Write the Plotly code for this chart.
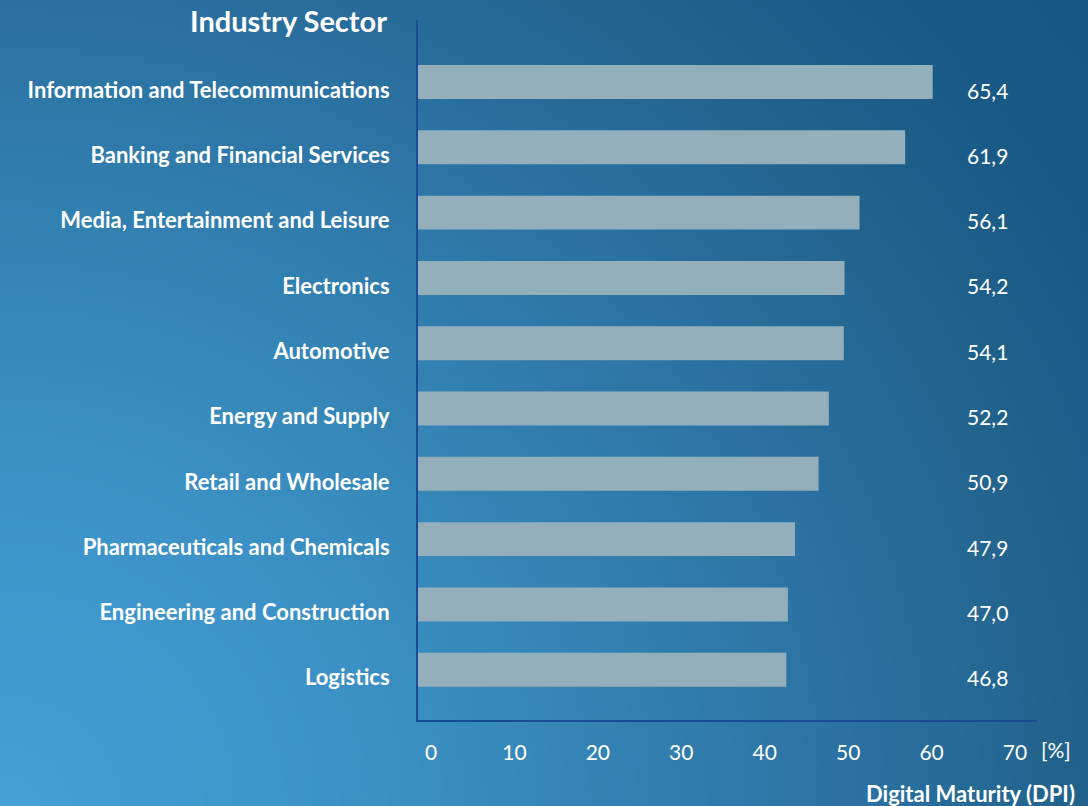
import numpy as np
import plotly.graph_objects as go

# --- data -----------------------------------------------------------------
SECTORS = [
    "Information and Telecommunications",
    "Banking and Financial Services",
    "Media, Entertainment and Leisure",
    "Electronics",
    "Automotive",
    "Energy and Supply",
    "Retail and Wholesale",
    "Pharmaceuticals and Chemicals",
    "Engineering and Construction",
    "Logistics",
]
DPI = [65.4, 61.9, 56.1, 54.2, 54.1, 52.2, 50.9, 47.9, 47.0, 46.8]
SCALE_TICKS = [0, 10, 20, 30, 40, 50, 60, 70]

# --- canvas geometry (pixels) ---------------------------------------------
W, H = 1088, 806
PLOT_L, PLOT_R = 418, 1037
PLOT_T, PLOT_B = 20, 720
BAR_PX_PER_UNIT = 7.87
TICK_ZERO_PX, TICK_PX_PER_UNIT = 431, 8.343

FONT = "Lato"
WHITE = "#ffffff"
AXIS_BLUE = "#1a4c96"
BAR_COLOR = "#94afbc"

n = len(SECTORS)
ypos = list(range(n - 1, -1, -1))  # first sector on top

fig = go.Figure()

# background: soft blue gradient, brightest in the lower-left corner
gx = np.linspace(0, W, 120)
gy = np.linspace(0, H, 90)
GX, GY = np.meshgrid(gx, gy)
dist = np.sqrt((GX / W) ** 2 + (((H - GY) / H) * 0.8) ** 2)
dmax = float(np.sqrt(1 + 0.64))
fig.add_trace(go.Heatmap(
    x=gx, y=gy, z=dist, zmin=0, zmax=dmax, zsmooth="best",
    colorscale=[
        [0.0, "#449fd6"],
        [0.3 / dmax, "#3d93c8"],
        [0.5 / dmax, "#3587b8"],
        [0.8 / dmax, "#2a70a0"],
        [0.95 / dmax, "#23658f"],
        [1.1 / dmax, "#1b5b87"],
        [1.0, "#155583"],
    ],
    showscale=False, hoverinfo="skip", xaxis="x", yaxis="y",
))

# bars
fig.add_trace(go.Bar(
    x=DPI, y=ypos, orientation="h", width=0.52,
    marker=dict(color=BAR_COLOR, line=dict(width=0)),
    xaxis="x2", yaxis="y2", hoverinfo="skip",
))

# carrier for the percentage scale along the bottom
fig.add_trace(go.Scatter(
    x=SCALE_TICKS, y=[None] * len(SCALE_TICKS), mode="markers",
    marker=dict(opacity=0), xaxis="x3", yaxis="y2", hoverinfo="skip",
))

# value labels on the right
for v, yp in zip(DPI, ypos):
    fig.add_annotation(
        x=965 / W, xref="paper", xanchor="left",
        y=yp, yref="y2", yanchor="middle", yshift=-8,
        text=f"{v:.1f}".replace(".", ","), showarrow=False,
        font=dict(family=FONT, size=21, color=WHITE),
    )

fig.add_annotation(
    x=389 / W, xref="paper", xanchor="right",
    y=1 - 21 / H, yref="paper", yanchor="middle",
    text="<b>Industry Sector</b>", showarrow=False,
    font=dict(family=FONT, size=29, color=WHITE),
)
fig.add_annotation(
    x=1039 / W, xref="paper", xanchor="left",
    y=1 - 749 / H, yref="paper", yanchor="middle",
    text="[%]", showarrow=False,
    font=dict(family=FONT, size=21, color=WHITE),
)
fig.add_annotation(
    x=1077 / W, xref="paper", xanchor="right",
    y=1 - 793 / H, yref="paper", yanchor="middle",
    text="<b>Digital Maturity (DPI)</b>", showarrow=False,
    font=dict(family=FONT, size=22, color=WHITE),
)

fig.update_layout(
    width=W, height=H,
    margin=dict(l=0, r=0, t=0, b=0, pad=0),
    paper_bgcolor="#2a77a8",
    plot_bgcolor="rgba(0,0,0,0)",
    showlegend=False,
    xaxis=dict(domain=[0, 1], range=[0, W], visible=False, fixedrange=True),
    yaxis=dict(domain=[0, 1], range=[H, 0], visible=False, fixedrange=True),
    xaxis2=dict(
        domain=[PLOT_L / W, PLOT_R / W], anchor="y2",
        range=[0, (PLOT_R - PLOT_L) / BAR_PX_PER_UNIT],
        showline=True, linecolor=AXIS_BLUE, linewidth=2,
        showticklabels=False, showgrid=False, zeroline=False, ticks="",
    ),
    yaxis2=dict(
        domain=[1 - PLOT_B / H, 1 - PLOT_T / H], anchor="x2",
        range=[-0.77, n - 1 + 0.95],
        tickvals=ypos, ticktext=[f"<b>{s}</b>" for s in SECTORS],
        tickfont=dict(family=FONT, size=22, color=WHITE),
        showline=True, linecolor=AXIS_BLUE, linewidth=2,
        showgrid=False, zeroline=False, ticks="",
        ticklabelstandoff=22, ticklabelshift=8,
    ),
    xaxis3=dict(
        overlaying="x2", anchor="y2", side="bottom",
        range=[(PLOT_L - TICK_ZERO_PX) / TICK_PX_PER_UNIT,
               (PLOT_R - TICK_ZERO_PX) / TICK_PX_PER_UNIT],
        tickvals=SCALE_TICKS, ticktext=[str(t) for t in SCALE_TICKS],
        tickfont=dict(family=FONT, size=21, color=WHITE),
        showline=False, showgrid=False, zeroline=False, ticks="",
        ticklabelstandoff=18,
    ),
)

fig.write_html("out.html")
